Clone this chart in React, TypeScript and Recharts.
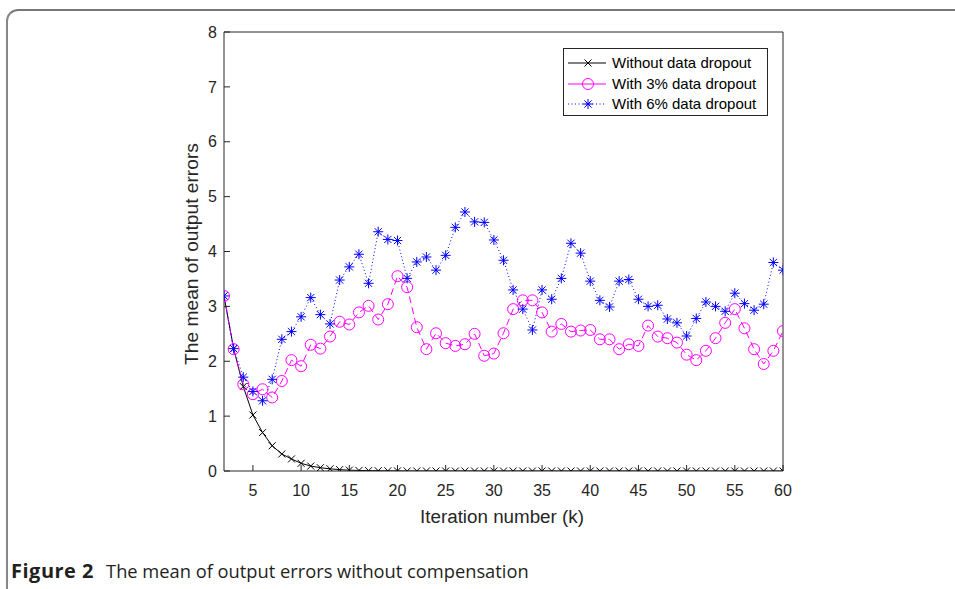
import React from 'react';
import { LineChart, Line, XAxis, YAxis, Legend, Label } from 'recharts';

const iterations = [
  2, 3, 4, 5, 6, 7, 8, 9, 10, 11, 12, 13, 14, 15, 16, 17, 18, 19, 20, 21,
  22, 23, 24, 25, 26, 27, 28, 29, 30, 31, 32, 33, 34, 35, 36, 37, 38, 39, 40, 41,
  42, 43, 44, 45, 46, 47, 48, 49, 50, 51, 52, 53, 54, 55, 56, 57, 58, 59, 60,
];

const withoutDropout = [
  3.19, 2.23, 1.54, 1.02, 0.7, 0.46, 0.31, 0.22, 0.14, 0.09, 0.06, 0.04, 0.025, 0.015, 0.01, 0.007, 0.005, 0.003, 0.002, 0,
  0, 0, 0, 0, 0, 0, 0, 0, 0, 0, 0, 0, 0, 0, 0, 0, 0, 0, 0, 0,
  0, 0, 0, 0, 0, 0, 0, 0, 0, 0, 0, 0, 0, 0, 0, 0, 0, 0, 0,
];

const dropout3 = [
  3.19, 2.22, 1.58, 1.4, 1.49, 1.34, 1.64, 2.02, 1.91, 2.3, 2.23, 2.45, 2.72, 2.67, 2.89, 3.01, 2.76, 3.04, 3.55, 3.35,
  2.62, 2.22, 2.51, 2.33, 2.28, 2.31, 2.5, 2.1, 2.14, 2.51, 2.95, 3.11, 3.11, 2.89, 2.54, 2.68, 2.54, 2.56, 2.57, 2.4,
  2.4, 2.22, 2.31, 2.28, 2.65, 2.45, 2.42, 2.34, 2.12, 2.02, 2.19, 2.42, 2.7, 2.95, 2.6, 2.22, 1.95, 2.19, 2.55,
];

const dropout6 = [
  3.19, 2.23, 1.71, 1.45, 1.28, 1.67, 2.4, 2.54, 2.81, 3.16, 2.85, 2.68, 3.48, 3.72, 3.95, 3.42, 4.36, 4.22, 4.2, 3.51,
  3.81, 3.9, 3.66, 3.93, 4.44, 4.72, 4.54, 4.53, 4.21, 3.84, 3.3, 2.95, 2.57, 3.3, 3.13, 3.51, 4.15, 3.97, 3.46, 3.11,
  2.99, 3.46, 3.49, 3.13, 3.0, 3.02, 2.77, 2.7, 2.46, 2.78, 3.08, 3.0, 2.91, 3.24, 3.05, 2.93, 3.04, 3.8, 3.66,
];

const xTicks = [5, 10, 15, 20, 25, 30, 35, 40, 45, 50, 55, 60];
const yTicks = [0, 1, 2, 3, 4, 5, 6, 7, 8];

const seriesNames = ['Without data dropout', 'With 3% data dropout', 'With 6% data dropout'];

const data = iterations.map((k, i) => ({
  k,
  none: withoutDropout[i],
  d3: dropout3[i],
  d6: dropout6[i],
}));

const BLACK = '#000000';
const MAGENTA = '#ff00ff';
const BLUE = '#0000ff';
const AXIS = '#262626';
const FONT = '"Liberation Sans", Arial, Helvetica, sans-serif';

const XMark = ({ cx, cy, color, s = 3.5 }: any) => (
  <g stroke={color} strokeWidth={1} fill="none">
    <line x1={cx - s} y1={cy - s} x2={cx + s} y2={cy + s} />
    <line x1={cx - s} y1={cy + s} x2={cx + s} y2={cy - s} />
  </g>
);

const CircleMark = ({ cx, cy, color, r = 5.5 }: any) => (
  <circle cx={cx} cy={cy} r={r} stroke={color} strokeWidth={1} fill="none" />
);

const StarMark = ({ cx, cy, color, s = 5 }: any) => {
  const d = s * 0.72;
  return (
    <g stroke={color} strokeWidth={1} fill="none">
      <line x1={cx - s} y1={cy} x2={cx + s} y2={cy} />
      <line x1={cx} y1={cy - s} x2={cx} y2={cy + s} />
      <line x1={cx - d} y1={cy - d} x2={cx + d} y2={cy + d} />
      <line x1={cx - d} y1={cy + d} x2={cx + d} y2={cy - d} />
    </g>
  );
};

const TickText = ({ x, y, payload, anchor, dy }: any) => (
  <text x={x} y={y} dy={dy} textAnchor={anchor} fontSize={16} fill={AXIS} fontFamily={FONT}>
    {payload.value}
  </text>
);

const LegendBox = () => {
  const rows = [
    { name: seriesNames[0], color: BLACK, dash: undefined, mark: 'x' },
    { name: seriesNames[1], color: MAGENTA, dash: undefined, mark: 'o' },
    { name: seriesNames[2], color: BLUE, dash: '1 2.5', mark: '*' },
  ];
  return (
    <div
      style={{
        width: 205,
        height: 68,
        border: `1px solid ${AXIS}`,
        background: '#fff',
        boxSizing: 'border-box',
        fontFamily: FONT,
        fontSize: 15,
        color: '#000',
        position: 'relative',
      }}
    >
      {rows.map((r, i) => (
        <div key={r.name} style={{ position: 'absolute', left: 0, top: 4 + i * 20.5, height: 20, width: 200 }}>
          <svg width={45} height={20} style={{ position: 'absolute', left: 0, top: 0 }}>
            <line x1={4} y1={10} x2={42} y2={10} stroke={r.color} strokeWidth={1} strokeDasharray={r.dash} />
            {r.mark === 'x' && <XMark cx={24} cy={10} color={r.color} />}
            {r.mark === 'o' && <CircleMark cx={24} cy={10} color={r.color} />}
            {r.mark === '*' && <StarMark cx={24} cy={10} color={r.color} />}
          </svg>
          <span style={{ position: 'absolute', left: 48, top: 1, whiteSpace: 'nowrap', lineHeight: '18px' }}>{r.name}</span>
        </div>
      ))}
    </div>
  );
};

export default function App() {
  return (
    <div style={{ position: 'absolute', left: 0, top: 0, width: 955, height: 589, overflow: 'hidden', background: '#fff' }}>
      <div
        style={{
          position: 'absolute',
          left: 6,
          top: 9,
          width: 1100,
          height: 800,
          borderTop: '2px solid #777',
          borderLeft: '2px solid #888',
          borderTopLeftRadius: 12,
          boxSizing: 'border-box',
        }}
      />
      <div style={{ position: 'absolute', left: 0, top: 0 }}>
        <LineChart
          width={955}
          height={589}
          data={data}
          margin={{ top: 22, left: 184, right: 162, bottom: 88 }}
          style={{ fontFamily: FONT }}
        >
          <XAxis
            dataKey="k"
            type="number"
            domain={[2, 60]}
            ticks={xTicks}
            height={30}
            tickSize={-6}
            tickMargin={20}
            stroke={AXIS}
            tick={(p: any) => <TickText key={`xt-${p.index}`} x={p.x} y={p.y} payload={p.payload} anchor="middle" dy="0.71em" />}
            interval={0}
            allowDataOverflow
          >
            <Label
              content={() => (
                <text x={502} y={523} textAnchor="middle" fontSize={18.8} fill={AXIS} fontFamily={FONT}>
                  Iteration number (k)
                </text>
              )}
            />
          </XAxis>
          <XAxis
            xAxisId="top"
            orientation="top"
            dataKey="k"
            type="number"
            domain={[2, 60]}
            ticks={xTicks}
            height={10}
            tickSize={-6}
            tick={false}
            stroke={AXIS}
            interval={0}
            allowDataOverflow
          />
          <YAxis
            type="number"
            domain={[0, 8]}
            ticks={yTicks}
            width={40}
            tickSize={-6}
            tickMargin={13}
            stroke={AXIS}
            tick={(p: any) => <TickText key={`yt-${p.index}`} x={p.x} y={p.y} payload={p.payload} anchor="end" dy="0.355em" />}
            interval={0}
            allowDataOverflow
          >
            <Label
              content={() => (
                <text
                  x={191}
                  y={254}
                  transform="rotate(-90 191 254)"
                  textAnchor="middle"
                  dominantBaseline="central"
                  fontSize={19.2}
                  fill={AXIS}
                  fontFamily={FONT}
                >
                  The mean of output errors
                </text>
              )}
            />
          </YAxis>
          <YAxis
            yAxisId="right"
            orientation="right"
            type="number"
            domain={[0, 8]}
            ticks={yTicks}
            width={10}
            tickSize={-6}
            tick={false}
            stroke={AXIS}
            interval={0}
            allowDataOverflow
          />
          <Line
            type="linear"
            dataKey="none"
            name={seriesNames[0]}
            stroke={BLACK}
            strokeWidth={1}
            isAnimationActive={false}
            dot={(p: any) => <XMark key={`x-${p.index}`} cx={p.cx} cy={p.cy} color={BLACK} />}
            activeDot={false}
          />
          <Line
            type="linear"
            dataKey="d3"
            name={seriesNames[1]}
            stroke={MAGENTA}
            strokeWidth={1}
            strokeDasharray="7 4"
            isAnimationActive={false}
            dot={(p: any) => <CircleMark key={`o-${p.index}`} cx={p.cx} cy={p.cy} color={MAGENTA} />}
            activeDot={false}
          />
          <Line
            type="linear"
            dataKey="d6"
            name={seriesNames[2]}
            stroke={BLUE}
            strokeWidth={1}
            strokeDasharray="1 2.5"
            isAnimationActive={false}
            dot={(p: any) => <StarMark key={`s-${p.index}`} cx={p.cx} cy={p.cy} color={BLUE} />}
            activeDot={false}
          />
          <Legend
            layout="vertical"
            align="center"
            verticalAlign="middle"
            content={() => <LegendBox />}
            wrapperStyle={{ left: 563, top: 48, width: 205, height: 68 }}
          />
        </LineChart>
      </div>
      <div
        style={{
          position: 'absolute',
          left: 11,
          top: 558,
          fontFamily: '"Open Sans", "Noto Sans", sans-serif',
          color: '#231f20',
          whiteSpace: 'nowrap',
          lineHeight: '26px',
        }}
      >
        <span style={{ fontWeight: 700, fontSize: 20, letterSpacing: 0.5 }}>Figure 2</span>
        <span style={{ marginLeft: 12, fontSize: 18.3 }}>The mean of output errors without compensation</span>
      </div>
    </div>
  );
}
